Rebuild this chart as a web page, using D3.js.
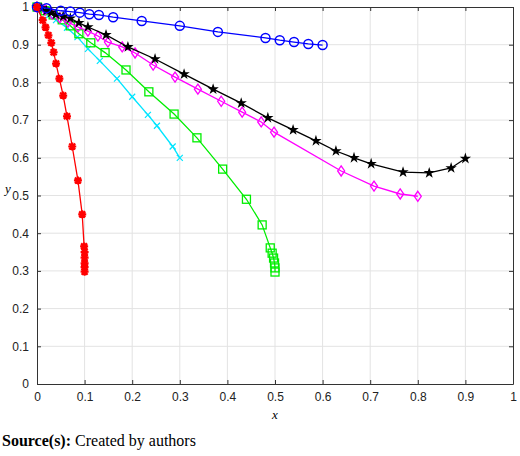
<!DOCTYPE html>
<html><head><meta charset="utf-8">
<script src="https://cdn.jsdelivr.net/npm/d3@7"></script>
<style>body{margin:0;background:#fff}svg{display:block}</style>
</head><body><svg id="c" width="520" height="456"></svg>
<script>
const xTicks=[0,0.1,0.2,0.3,0.4,0.5,0.6,0.7,0.8,0.9,1];
const yTicks=[0,0.1,0.2,0.3,0.4,0.5,0.6,0.7,0.8,0.9,1];
const blueX=[0,0.02,0.05,0.07,0.09,0.11,0.13,0.16,0.22,0.3,0.38,0.48,0.51,0.54,0.57,0.6];
const blueY=[1,0.997,0.99,0.988,0.985,0.981,0.979,0.973,0.963,0.95,0.934,0.918,0.912,0.907,0.902,0.899];
const blackX=[0,0.01,0.02,0.03,0.04,0.055,0.07,0.088,0.107,0.145,0.191,0.248,0.309,0.37,0.429,0.485,0.538,0.586,0.628,0.666,0.702,0.769,0.824,0.87,0.9];
const blackY=[1,0.997,0.99,0.985,0.98,0.975,0.97,0.958,0.947,0.926,0.894,0.862,0.822,0.782,0.745,0.706,0.674,0.645,0.618,0.6,0.584,0.562,0.56,0.573,0.598];
const magX=[0,0.017,0.032,0.048,0.065,0.086,0.107,0.128,0.149,0.179,0.206,0.244,0.29,0.338,0.387,0.431,0.471,0.498,0.639,0.708,0.763,0.8];
const magY=[1,0.992,0.981,0.971,0.96,0.947,0.936,0.923,0.907,0.894,0.878,0.846,0.814,0.782,0.75,0.721,0.695,0.668,0.565,0.525,0.504,0.498];
const greenX=[0,0.017,0.034,0.053,0.07,0.088,0.113,0.143,0.187,0.235,0.288,0.336,0.39,0.44,0.473,0.49,0.494,0.497,0.499,0.5,0.5];
const greenY=[1,0.99,0.979,0.966,0.95,0.929,0.905,0.879,0.833,0.775,0.716,0.653,0.57,0.49,0.422,0.361,0.347,0.334,0.321,0.308,0.297];
const cyanX=[0,0.012,0.025,0.04,0.063,0.085,0.107,0.132,0.168,0.2,0.233,0.252,0.285,0.3];
const cyanY=[1,0.99,0.978,0.965,0.945,0.92,0.889,0.857,0.81,0.762,0.714,0.685,0.63,0.6];
const redX=[0,0.012,0.018,0.024,0.03,0.035,0.04,0.047,0.055,0.063,0.074,0.086,0.095,0.099,0.1,0.1,0.1,0.1,0.1];
const redY=[1,0.965,0.946,0.925,0.905,0.88,0.85,0.81,0.765,0.71,0.63,0.54,0.45,0.365,0.35,0.335,0.32,0.31,0.298];

const svg=d3.select("#c");
const L=37,R=513,T=7,B=384;
const x=d3.scaleLinear().domain([0,1]).range([L,R]);
const y=d3.scaleLinear().domain([0,1]).range([B,T]);
const g=svg.append("g");
g.selectAll(".gx").data(xTicks.slice(1,-1)).join("line").attr("x1",d=>x(d)).attr("x2",d=>x(d)).attr("y1",T).attr("y2",B).attr("stroke","#e3e3e3");
g.selectAll(".gy").data(yTicks.slice(1,-1)).join("line").attr("y1",d=>y(d)).attr("y2",d=>y(d)).attr("x1",L).attr("x2",R).attr("stroke","#e3e3e3");
const ax=d3.axisBottom(x).tickValues(xTicks).tickFormat(d3.format("")).tickSizeInner(-4).tickSizeOuter(0).tickPadding(8);
const ay=d3.axisLeft(y).tickValues(yTicks).tickFormat(d3.format("")).tickSizeInner(-4).tickSizeOuter(0).tickPadding(8);
const axT=d3.axisTop(x).tickValues(xTicks).tickFormat("").tickSizeInner(-4).tickSizeOuter(0);
const ayR=d3.axisRight(y).tickValues(yTicks).tickFormat("").tickSizeInner(-4).tickSizeOuter(0);
[[ax,`translate(0,${B})`],[ay,`translate(${L},0)`],[axT,`translate(0,${T})`],[ayR,`translate(${R},0)`]].forEach(([a,t])=>{
 const s=svg.append("g").attr("transform",t).call(a);
 s.selectAll("text").attr("font-family","Liberation Sans, Arial").attr("font-size",12).attr("fill","#222");
 s.select(".domain").attr("stroke","#333");
 s.selectAll(".tick line").attr("stroke","#333");
});
svg.append("text").attr("x",x(0.5)).attr("y",419).attr("text-anchor","middle").attr("font-family","Liberation Serif").attr("font-style","italic").attr("font-size",13).text("x");
svg.append("text").attr("x",8).attr("y",y(0.5)-3).attr("text-anchor","middle").attr("font-family","Liberation Serif").attr("font-style","italic").attr("font-size",13).text("y");

const line=d3.line().x(d=>x(d[0])).y(d=>y(d[1]));
function series(xs,ys,col,mk){
 const pts=xs.map((v,i)=>[v,ys[i]]);
 svg.append("path").datum(pts).attr("d",line).attr("fill","none").attr("stroke",col).attr("stroke-width",1.3);
 const m=svg.append("g");
 pts.forEach(p=>{
  const cx=x(p[0]),cy=y(p[1]);
  if(mk==="o")m.append("circle").attr("cx",cx).attr("cy",cy).attr("r",4.5).attr("fill","none").attr("stroke",col).attr("stroke-width",1.5);
  else if(mk==="s")m.append("rect").attr("x",cx-4).attr("y",cy-4).attr("width",8).attr("height",8).attr("fill","none").attr("stroke",col).attr("stroke-width",1.3);
  else if(mk==="d")m.append("path").attr("d",`M${cx},${cy-5}L${cx+3.5},${cy}L${cx},${cy+5}L${cx-3.5},${cy}Z`).attr("fill","none").attr("stroke",col).attr("stroke-width",1.3);
  else if(mk==="x")m.append("path").attr("d",`M${cx-3},${cy-3}L${cx+3},${cy+3}M${cx-3},${cy+3}L${cx+3},${cy-3}`).attr("stroke",col).attr("stroke-width",1.2);
  else if(mk==="star")m.append("path").attr("d",d3.symbol(d3.symbolStar,40)()).attr("transform",`translate(${cx},${cy})`).attr("fill",col);
  else if(mk==="hex")m.append("path").attr("d",`M${cx-4},${cy}L${cx+4},${cy}M${cx},${cy-4}L${cx},${cy+4}M${cx-3},${cy-3}L${cx+3},${cy+3}M${cx-3},${cy+3}L${cx+3},${cy-3}`).attr("stroke",col).attr("stroke-width",2.2);
 });
}
series(cyanX,cyanY,"#00e5ff","x");
series(greenX,greenY,"#00ee00","s");
series(magX,magY,"#ff00ff","d");
series(blackX,blackY,"#000","star");
series(blueX,blueY,"#0000ff","o");
series(redX,redY,"#ff0000","hex");

const st=svg.append("text").attr("x",2).attr("y",446).attr("font-family","Liberation Serif").attr("font-size",16);
st.append("tspan").attr("font-weight","bold").text("Source(s):");
st.append("tspan").text(" Created by authors");
</script></body></html>
